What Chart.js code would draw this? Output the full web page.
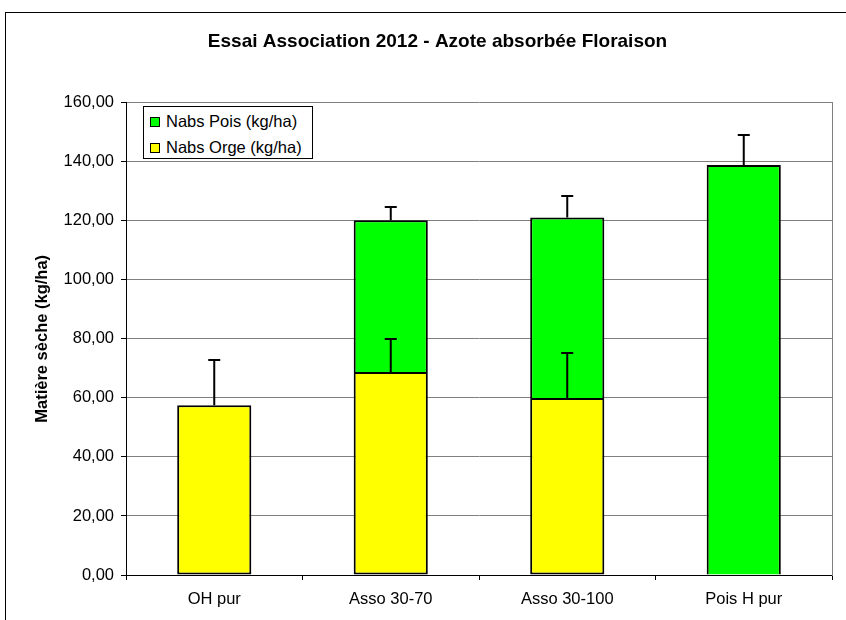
<!DOCTYPE html>
<html lang="fr">
<head>
<meta charset="utf-8">
<title>Essai Association 2012 - Azote absorbée Floraison</title>
<script src="https://cdn.jsdelivr.net/npm/chart.js@4"></script>
<style>
  html, body { margin: 0; padding: 0; background: #fff; overflow: hidden; }
  #wrap { position: relative; width: 875px; height: 620px; }
  #legend {
    position: absolute; left: 143px; top: 106px; width: 168px; height: 51px;
    border: 1px solid #000; background: #fff;
    font-family: "Liberation Sans", Arial, sans-serif; font-size: 16.5px; color: #000;
  }
  #legend .row { position: absolute; left: 6px; height: 20px; line-height: 20px; white-space: nowrap; }
  #legend .dot { display: inline-block; width: 8px; height: 8px; border: 1px solid #000; margin-right: 6px; vertical-align: 0px; }
</style>
</head>
<body>
<div id="wrap">
  <canvas id="chart" width="875" height="620"></canvas>
  <div id="legend"></div>
</div>
<script>
// categories
const CATEGORIES = ['OH pur', 'Asso 30-70', 'Asso 30-100', 'Pois H pur'];

// N absorbé (kg/ha)
const NABS_ORGE = [57.5, 68.8, 60.0, null];
const NABS_POIS = [null, 51.4, 61.1, 138.9];

// upper error bars
const ERR_ORGE = [15.4, 11.2, 15.3, null];
const ERR_POIS = [null, 4.3, 7.3, 10.0];

const Y_MIN = 0;
const Y_MAX = 160;
const Y_STEP = 20;

const FONT = '"Liberation Sans", Arial, sans-serif';
const GRID = '#808080';

Chart.defaults.font.family = FONT;
Chart.defaults.font.size = 16.5;
Chart.defaults.color = '#000';

const datasets = [
  { label: 'Nabs Orge (kg/ha)', data: NABS_ORGE, errors: ERR_ORGE, backgroundColor: '#FFFF00', borderSkipped: false },
  { label: 'Nabs Pois (kg/ha)', data: NABS_POIS, errors: ERR_POIS, backgroundColor: '#00FF00', borderSkipped: 'start' },
].map((d) => ({
  ...d,
  borderColor: '#000',
  borderWidth: 2,
  barPercentage: 0.42,
  categoryPercentage: 1,
}));

// outer frame of the chart object
const framePlugin = {
  id: 'frame',
  beforeDraw(chart) {
    const { ctx } = chart;
    ctx.save();
    ctx.fillStyle = '#fff';
    ctx.fillRect(0, 0, chart.width, chart.height);
    ctx.strokeStyle = '#000';
    ctx.lineWidth = 1;
    ctx.strokeRect(5.5, 12.5, chart.width + 20, chart.height + 20);
    ctx.restore();
  },
};

// upward error bars on top of each stacked segment
const errorBarPlugin = {
  id: 'errorBars',
  afterDatasetsDraw(chart) {
    const { ctx } = chart;
    const y = chart.scales.y;
    ctx.save();
    ctx.strokeStyle = '#000';
    ctx.lineWidth = 2;
    chart.data.datasets.forEach((ds, d) => {
      const meta = chart.getDatasetMeta(d);
      ds.errors.forEach((err, i) => {
        if (err == null || ds.data[i] == null) return;
        let top = 0;
        for (let k = 0; k <= d; k++) top += chart.data.datasets[k].data[i] || 0;
        const bar = meta.data[i];
        const y0 = y.getPixelForValue(top);
        const y1 = Math.round(y.getPixelForValue(top + err));
        ctx.beginPath();
        ctx.moveTo(bar.x, y0);
        ctx.lineTo(bar.x, y1);
        ctx.moveTo(bar.x - 6, y1);
        ctx.lineTo(bar.x + 6, y1);
        ctx.stroke();
      });
    });
    ctx.restore();
  },
};

const chart = new Chart(document.getElementById('chart'), {
  type: 'bar',
  data: { labels: CATEGORIES, datasets },
  plugins: [framePlugin, errorBarPlugin],
  options: {
    responsive: false,
    animation: false,
    layout: { padding: 0 },
    plugins: {
      legend: { display: false },
      tooltip: { enabled: false },
      title: {
        display: true,
        text: 'Essai Association 2012 - Azote absorbée Floraison',
        font: { size: 19, weight: 'bold' },
        color: '#000',
        padding: { top: 30.6, bottom: 49.3 },
      },
    },
    scales: {
      x: {
        stacked: true,
        grid: { display: true, drawOnChartArea: false, tickLength: 5, color: '#000' },
        border: { color: '#000', width: 1 },
        ticks: { padding: 10, color: '#000' },
        afterFit: (scale) => { scale.height = 45; },
      },
      y: {
        stacked: true,
        min: Y_MIN,
        max: Y_MAX,
        ticks: {
          stepSize: Y_STEP,
          padding: 7,
          color: '#000',
          callback: (v) => v.toFixed(2).replace('.', ','),
        },
        grid: {
          color: (c) => (c.tick && c.tick.value === 0 ? '#000' : GRID),
          tickColor: '#000',
          tickLength: 5,
        },
        border: { color: '#000', width: 1 },
        title: {
          display: true,
          text: 'Matière sèche (kg/ha)',
          font: { size: 16.5, weight: 'bold' },
          color: '#000',
          padding: { top: 32.6, bottom: 0 },
        },
        afterFit: (scale) => { scale.width = 126; },
      },
      y2: {
        position: 'right',
        min: Y_MIN,
        max: Y_MAX,
        ticks: { display: false },
        grid: { display: false, drawTicks: false },
        border: { color: GRID, width: 1 },
        afterFit: (scale) => { scale.width = 43; },
      },
    },
  },
});

// legend box (Pois listed first, as in the original)
const legend = document.getElementById('legend');
legend.innerHTML = [...datasets].reverse().map((ds, i) => `<div class="row" style="top:${4 + i * 26}px">
    <span class="dot" style="background:${ds.backgroundColor}"></span>${ds.label}
  </div>`).join('');
</script>
</body>
</html>
